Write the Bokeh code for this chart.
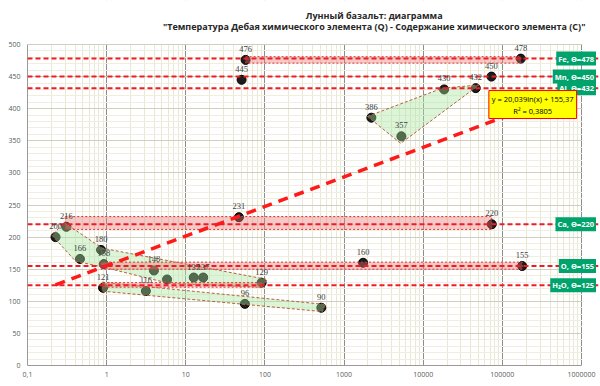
import math
from bokeh.plotting import figure
from bokeh.models import (FixedTicker, SingleIntervalTicker, CustomJSTickFormatter,
                          Label, LabelSet, ColumnDataSource, Range1d, Span)
from bokeh.embed import file_html
from bokeh.resources import INLINE

# ---------------- data ----------------
TITLE_1 = "Лунный базальт: диаграмма"
TITLE_2 = "\"Температура Дебая химического элемента (Q) - Содержание химического элемента (C)\""

conc = [0.226, 0.31, 0.46, 0.85, 0.92, 0.90, 3.96, 3.13, 5.8, 12.6, 16.6, 90.8, 55.8, 516,
        46.9, 57, 50.7, 1740, 2213, 5300, 18370, 46100, 72800, 171000, 73500, 178000]
debye = [200, 216, 166, 180, 158, 121, 148, 116, 134, 137, 137, 129, 96, 90,
         231, 476, 445, 160, 386, 357, 430, 432, 450, 478, 220, 155]
point_labels = ["200", "216", "166", "180", "158", "121", "148", "116", "", "137", "137", "129", "96", "90",
                "231", "476", "445", "160", "386", "357", "430", "432", "450", "478", "220", "155"]

ref_elements = ["Fe", "Mn", "Al", "Ca", "O", "H\u2082O"]
ref_theta = [478, 450, 432, 220, 155, 125]

band_x0 = [57, 0.30, 0.85, 0.9]
band_x1 = [171000, 73500, 178000, 92]
band_y0 = [471, 212, 150, 122]
band_y1 = [481, 232, 161, 129]

poly_a_x = [0.288, 0.88, 107, 92.7, 6.1, 0.92, 0.404, 0.205]
poly_a_y = [223, 182.7, 134, 122, 128, 153, 162.5, 202.5]
poly_b_x = [0.88, 585, 532, 0.88]
poly_b_y = [129.8, 95, 84, 115.8]
poly_c_x = [1972, 17500, 50800, 5200]
poly_c_y = [388, 432, 437, 346]

TREND_A = 20.039
TREND_B = 155.37
EQ_TEXT = "y = 20,039ln(x) + 155,37\nR\u00b2 = 0,3805"

x_ticks = [0.1, 1, 10, 100, 1000, 10000, 100000, 1000000]
X_MIN, X_MAX = 0.1, 1e6
Y_MIN, Y_MAX = 0, 500

# ---------------- layout ----------------
W, H = 600, 386
FRAME_L, FRAME_R, FRAME_B = 27, 598, 365      # frame extends to top / right for titles & tags
PLOT_R, PLOT_T = 581, 44                       # visible plot area edges
px_per_dec = (PLOT_R - FRAME_L) / 7.0
px_per_unit = (FRAME_B - PLOT_T) / (Y_MAX - Y_MIN)
x_view_max = X_MAX * 10 ** ((FRAME_R - PLOT_R) / px_per_dec)
y_view_max = Y_MAX + PLOT_T / px_per_unit

FONT = "Open Sans"
p = figure(width=W, height=H, x_axis_type="log",
           x_range=Range1d(X_MIN, x_view_max), y_range=Range1d(Y_MIN, y_view_max),
           output_backend="svg", toolbar_location=None,
           min_border_left=FRAME_L, min_border_right=W - FRAME_R,
           min_border_top=0, min_border_bottom=H - FRAME_B)
p.outline_line_color = None
p.background_fill_color = "white"
p.border_fill_color = "white"

minor = [k * t for t in x_ticks[:-1] for k in range(2, 10)]
p.xaxis.ticker = FixedTicker(ticks=x_ticks, minor_ticks=minor)
p.xaxis.formatter = CustomJSTickFormatter(
    code="return tick < 1 ? String(tick).replace('.', ',') : tick.toFixed(0);")
p.yaxis.ticker = SingleIntervalTicker(interval=50, num_minor_ticks=5)
p.xaxis.bounds = (X_MIN, X_MAX)
p.yaxis.bounds = (Y_MIN, Y_MAX)

for ax in (p.xaxis, p.yaxis):
    ax.major_tick_out = 0
    ax.major_tick_in = 0
    ax.minor_tick_out = 0
    ax.minor_tick_in = 0
    ax.axis_line_color = "#9a9a9a"
    ax.major_label_text_font = FONT
    ax.major_label_text_font_size = "7px"
    ax.major_label_text_color = "#595959"
p.xaxis.major_label_standoff = 6
p.yaxis.major_label_standoff = 7

p.xgrid.grid_line_color = "#8e8e8e"
p.xgrid.minor_grid_line_color = "#e9e8d4"
p.ygrid.grid_line_color = "#cfcfbf"
p.ygrid.minor_grid_line_color = "#efeedf"

# white masks outside the plotting area (over the grid)
p.quad(left=[X_MIN, X_MAX * 1.025], right=[x_view_max * 2, x_view_max * 2],
       bottom=[Y_MAX + 0.8, Y_MIN], top=[y_view_max * 2, y_view_max * 2],
       fill_color="white", line_color=None)

# points
src = ColumnDataSource(dict(x=conc, y=debye, t=point_labels))
p.scatter("x", "y", source=src, size=9, fill_color="#1c1c1c", line_color="#000000")

# green groups
p.patches([poly_a_x, poly_b_x, poly_c_x], [poly_a_y, poly_b_y, poly_c_y],
          fill_color="#a8e6a0", fill_alpha=0.4, line_color="#b4603c",
          line_dash="3 2", line_width=1)

# pink bands
p.quad(left=band_x0, right=band_x1, bottom=band_y0, top=band_y1,
       fill_color="#e87878", fill_alpha=0.4, line_color="#e03030",
       line_dash="2 2", line_width=1)

# logarithmic trend line (straight on a log-x axis)
tx = [min(conc), max(conc)]
ty = [TREND_A * math.log(v) + TREND_B for v in tx]
p.line(tx, ty, line_color="#ff1a1a", line_width=3.5, line_dash="10 7")

# reference lines
for th in ref_theta:
    p.add_layout(Span(location=th, dimension="width", line_color="#ee1c25",
                      line_width=2, line_dash="5 3"))

# point labels
p.add_layout(LabelSet(x="x", y="y", text="t", source=src, y_offset=11,
                      text_align="center", text_baseline="middle",
                      text_font=FONT, text_font_size="8.5px", text_color="#404040"))

# right tags
tag_x = x_view_max * 10 ** (-2.5 / px_per_dec)
for el, th in zip(ref_elements, ref_theta):
    p.add_layout(Label(x=tag_x, y=th, text=f"{el}, \u0398={th}", text_align="right",
                       text_baseline="middle", text_font=FONT, text_font_size="7.5px",
                       text_font_style="bold", text_color="white",
                       background_fill_color="#00a36c", padding=2))

# equation box
p.add_layout(Label(x=2.42e5, y=406.5, text=EQ_TEXT, text_align="center",
                   text_baseline="middle", text_font=FONT, text_font_size="7.5px",
                   text_color="black", background_fill_color="#ffff00",
                   border_line_color="#ff0000", border_line_width=1, padding=3))

# titles
p.add_layout(Label(x=2400, y=545, text=TITLE_1, text_align="center", text_baseline="middle",
                   text_font=FONT, text_font_size="9px", text_font_style="bold",
                   text_color="#262626"))
p.add_layout(Label(x=2400, y=528, text=TITLE_2, text_align="center", text_baseline="middle",
                   text_font=FONT, text_font_size="9px", text_font_style="bold",
                   text_color="#262626"))

open("out.html", "w").write(file_html(p, INLINE))
